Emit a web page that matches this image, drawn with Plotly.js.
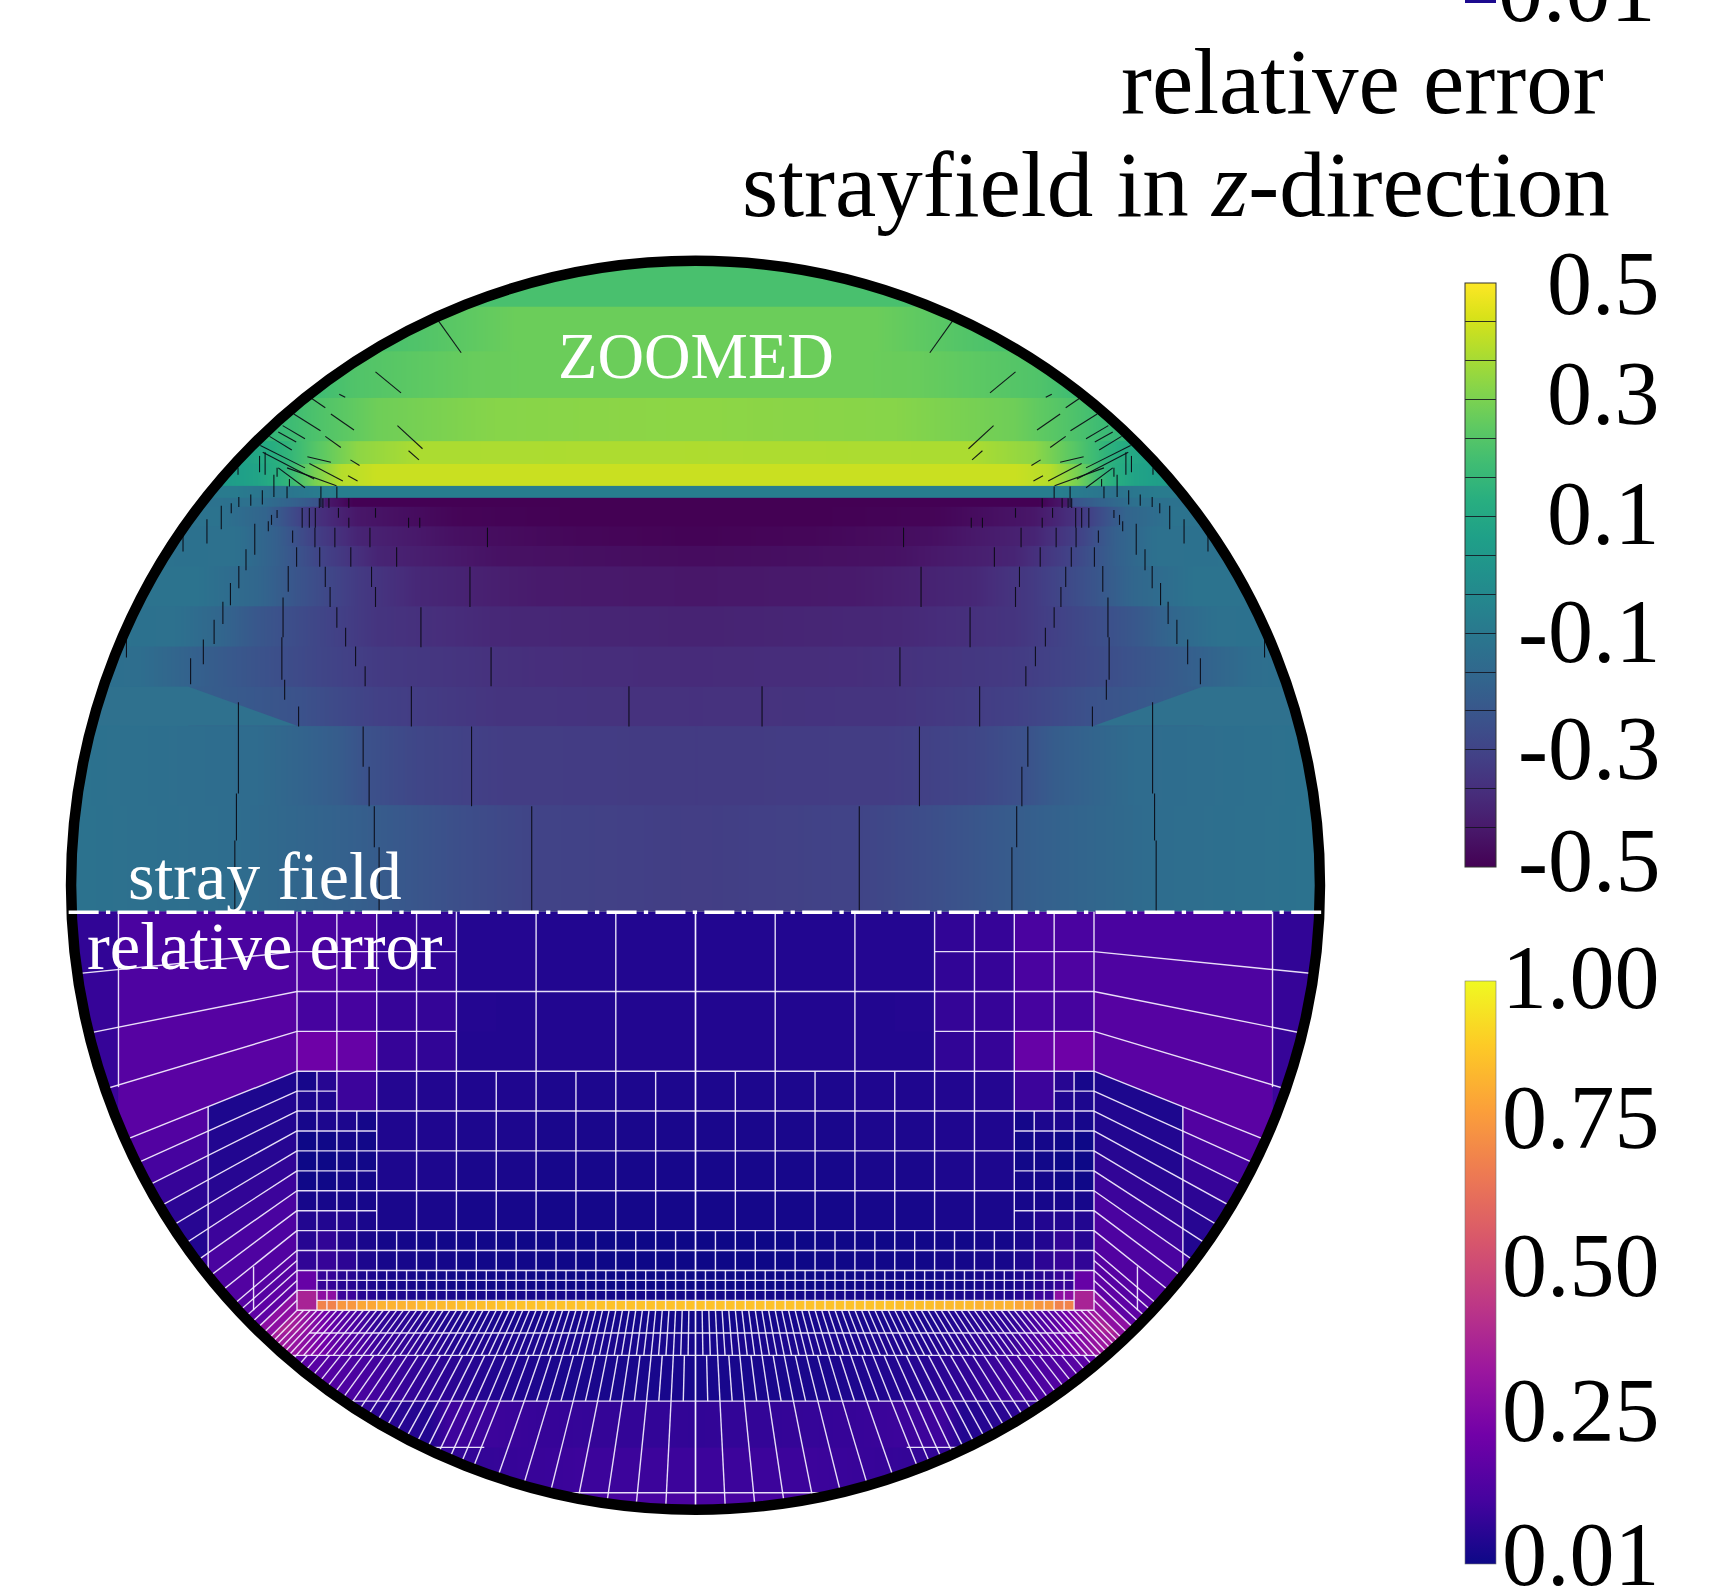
<!DOCTYPE html>
<html><head><meta charset="utf-8">
<script src="https://cdn.plot.ly/plotly-3.0.1.min.js"></script>
<style>html,body{margin:0;padding:0;background:#fff;overflow:hidden}#chart{width:1718px;height:1594px}</style>
</head><body><div id="chart"></div>
<script>
// ---------- page frame ----------
const pageW = 1718, pageH = 1594, pxPerUnit = 39.85, originPxX = 695.5, originPxY = 911.8;
const circleCy = 0.667, circleR = 15.67;

// ---------- upper half: stray field, band by band (distance from axis -> value) ----------
const fieldEdges = [0,2.67,4.67,5.65,6.66,7.67,8.68,9.18,9.67,10.16,10.4,10.7,11.25,11.8,12.9,14.06,15.18,16.7];
const fieldX01 = [0,4,6,8.5,11.5,17];            const fieldZ01 = [-.32,-.30,-.26,-.20,-.145,-.115];
const fieldX02 = [0,5,7,8.3,9,11,17];            const fieldZ02 = [-.33,-.32,-.29,-.25,-.21,-.15,-.115];
const fieldX03 = [0,5,8,9.9,12.7,12.75,17];      const fieldZ03 = [-.36,-.35,-.31,-.25,-.20,-.12,-.115];
const fieldX04 = [0,4,8,9.5,11.5,12.7,14,17];    const fieldZ04 = [-.38,-.37,-.33,-.29,-.23,-.19,-.14,-.115];
const fieldX05 = [0,5,8,9.5,11,12,13,17];        const fieldZ05 = [-.405,-.39,-.35,-.29,-.23,-.17,-.13,-.115];
const fieldX06 = [0,4,7,8.5,10,11,12.5,17];      const fieldZ06 = [-.44,-.43,-.39,-.33,-.24,-.17,-.12,-.115];
const fieldX07 = [0,5,8,9.3,10.5,11.5,17];       const fieldZ07 = [-.47,-.455,-.40,-.31,-.20,-.13,-.115];
const fieldX08 = [0,3,6,8.5,9.5,10.5,11.5,17];   const fieldZ08 = [-.495,-.485,-.46,-.40,-.32,-.20,-.13,-.115];
const fieldX09 = [0,3,6,8.5,9.5,10,10.8,12,17];  const fieldZ09 = [-.5,-.5,-.49,-.44,-.36,-.29,-.18,-.12,-.11];
const fieldX10 = [0,8.6,9.3,9.45,10,11,17];      const fieldZ10 = [-.5,-.5,-.43,-.25,-.2,-.13,-.1];
const fieldX11 = [0,9.1,9.6,10.5,11.5,17];       const fieldZ11 = [-.075,-.075,-.09,-.12,-.09,-.06];
const fieldX12 = [0,8,8.9,9.6,10.3,11,12,17];    const fieldZ12 = [.42,.42,.39,.29,.15,.08,.04,.04];
const fieldX13 = [0,7,8.5,9.5,10.3,11.2,17];     const fieldZ13 = [.38,.375,.33,.24,.15,.08,.06];
const fieldX14 = [0,5,8,9.5,10.5,11.5,17];       const fieldZ14 = [.33,.32,.28,.22,.17,.12,.1];
const fieldX15 = [0,4,5.5,7,8.6,10,17];          const fieldZ15 = [.275,.275,.27,.25,.225,.17,.15];
const fieldX16 = [0,4.5,5.8,7,8,17];             const fieldZ16 = [.275,.275,.25,.225,.21,.2];
const fieldX17 = [0,17];                         const fieldZ17 = [.21,.21];
const fieldXs = [fieldX01,fieldX02,fieldX03,fieldX04,fieldX05,fieldX06,fieldX07,fieldX08,fieldX09,fieldX10,fieldX11,fieldX12,fieldX13,fieldX14,fieldX15,fieldX16,fieldX17];
const fieldZs = [fieldZ01,fieldZ02,fieldZ03,fieldZ04,fieldZ05,fieldZ06,fieldZ07,fieldZ08,fieldZ09,fieldZ10,fieldZ11,fieldZ12,fieldZ13,fieldZ14,fieldZ15,fieldZ16,fieldZ17];
// outer teal wedge under the inner triangular zone
const wedgeX = [10,12.72,17,17], wedgeY = [4.67,5.65,5.65,4.67];

// hairline artefacts in the stray field (left half; mirrored)
const crackX  = [-11.56,-11.52,-11.47,-7.94,-8.06,-8.19,-8.34,-5.62,-4.11,-1.67,-7.13,-9.96,-10.31,-10.38,-10.35,-10.22,-10.01,-10.11,-8.29,-8.53,-8.78,-9.0,-9.17,-9.29,-9.43,-9.55,-9.54,-9.69,-9.87,-5.13,-6.89,-8.03,-8.13,-5.66,-7.5,-8.65,-8.17,-9.05,-5.22,-7.2,-6.92,-8.03,-8.7,-8.96,-8.7,-9.2,-9.35,-9.44,-12.67,-12.35,-12.08,-11.86,-11.67,-11.46,-11.28,-11.06,-10.72,-10.64,-10.5,-14.28,-12.86,-12.26,-11.9,-11.65,-11.46,-11.16,-10.87,-10.58,-10.25,-11.48,-10.8,-10.94,-10.5,-10.19,-9.4,-9.0];
const crackY0 = [0,1.79,2.97,0,1.62,2.65,3.64,2.65,0,4.65,4.65,4.65,5.32,5.82,6.89,8.03,8.66,9.26,5.66,6.16,6.66,7.13,7.65,8.15,8.66,9.15,9.64,9.64,9.64,5.66,6.64,7.65,8.15,7.65,8.66,8.66,9.15,9.15,9.15,9.64,9.64,9.89,9.64,9.89,10.13,10.13,10.13,10.13,5.71,6.21,6.72,7.22,7.69,8.12,8.57,8.96,9.55,9.71,9.88,6.38,9.04,9.24,9.6,10,10.16,10.19,10.22,10.41,10.38,10.97,10.97,11.03,10.92,10.67,10.16,10.38];
const crackY1 = [1.79,2.97,5.26,1.62,2.65,3.64,4.65,4.65,2.65,5.66,5.66,5.15,5.82,6.89,7.89,8.68,9.15,9.57,6.16,6.66,7.13,7.64,8.15,8.66,9.15,9.64,10.13,10.13,10.13,6.64,7.64,8.15,8.66,8.66,9.15,9.15,9.64,9.64,9.64,9.89,9.89,10.13,9.89,10.13,10.38,10.38,10.38,10.38,6.36,6.83,7.33,7.78,8.25,8.68,9.1,9.74,9.8,9.96,10.08,6.91,9.46,9.85,10.19,10.25,10.41,10.47,10.58,10.97,10.67,11.14,11.53,11.44,11.14,10.86,10.67,10.67];
const slashX0 = [-6.46,-8.03,-8.94,-9.63,-9.15,-7.48,-7.2,-10.08,-10.36,-9.29,-9.74,-8.66,-8.72,-10.69,-10.92,-10.86,-10.47,-10.47,-10.25,-9.69];
const slashY0 = [14.84,13.55,12.99,12.88,12.49,12.2,11.57,12.49,12.2,11.93,11.42,11.34,10.94,11.93,11.7,11.53,12.04,11.14,11.14,11.25];
const slashX1 = [-5.88,-7.39,-8.79,-9.29,-8.57,-6.85,-6.94,-9.41,-9.8,-8.9,-9.15,-8.43,-8.48,-10.13,-9.8,-9.57,-10.02,-9.8,-9.01,-8.85];
const slashY1 = [14.03,13.02,12.91,12.65,12.09,11.62,11.34,12.07,11.87,11.65,11.28,11.2,10.81,11.59,11.14,10.86,11.79,10.64,10.69,10.81];

// ---------- lower half: relative error per mesh block (half of the domain; mirrored) ----------
const errColEdges = [0,1,2,3,4,5,6,7,8,8.5,9,9.5,10];
const errRowEdges = [0,-1,-2,-3,-4,-4.5,-5,-5.5,-6,-6.5,-7,-7.5,-8,-8.5,-9,-9.5,-9.75,-10];
const errRow01 = [.05,.05,.05,.05,.055,.055,.08,.09,.13,.13,.13,.13];
const errRow02 = [.05,.05,.05,.05,.055,.055,.08,.09,.13,.13,.14,.14];
const errRow03 = [.05,.05,.05,.05,.05,.055,.085,.09,.12,.12,.12,.12];
const errRow04 = [.05,.05,.05,.05,.05,.05,.08,.09,.2,.2,.22,.22];
const errRow05 = [.04,.04,.04,.04,.045,.045,.05,.055,.1,.1,.06,.03];
const errRow06 = [.04,.04,.04,.04,.045,.045,.05,.055,.1,.1,.045,.04];
const errRow07 = [.035,.035,.035,.035,.04,.04,.045,.045,.025,.04,.04,.03];
const errRow08 = [.035,.035,.035,.035,.04,.04,.045,.045,.02,.025,.015,.012];
const errRow09 = [.03,.03,.03,.03,.035,.035,.04,.04,.02,.02,.005,.005];
const errRow10 = [.03,.03,.03,.03,.035,.035,.04,.04,.025,.025,.015,.015];
const errRow11 = [.025,.025,.025,.025,.03,.03,.035,.035,.03,.03,.03,.03];
const errRow12 = [.025,.025,.025,.025,.03,.03,.035,.035,.035,.05,.05,.05];
const errRow13 = [.012,.012,.012,.015,.015,.02,.02,.025,.035,.05,.08,.06];
const errRow14 = [.012,.012,.012,.015,.02,.02,.025,.03,.04,.07,.09,.08];
const errRow15 = [.012,.012,.012,.012,.015,.015,.02,.03,.04,.06,.09,.2];
const errRow16 = [.025,.025,.025,.03,.03,.03,.035,.04,.06,.1,.3,.38];
const errRow17 = [.87,.87,.87,.87,.87,.86,.85,.83,.8,.76,.7,.38];
const errRows = [errRow01,errRow02,errRow03,errRow04,errRow05,errRow06,errRow07,errRow08,errRow09,errRow10,errRow11,errRow12,errRow13,errRow14,errRow15,errRow16,errRow17];

// bands under the square
const fanEdges = [-10,-10.57,-11.13,-12.28,-13.44,-14.58,-16.7];
const fanX1 = [0,4,6,8,9,10,10.6,17]; const fanZ1 = [.02,.03,.04,.08,.17,.35,.42,.4];
const fanX2 = [0,4,6,8,9,10,11,17];   const fanZ2 = [.03,.04,.05,.1,.18,.32,.4,.4];
const fanX3 = [0,3,5,7,8.5,10,17];    const fanZ3 = [.03,.035,.05,.08,.13,.18,.22];
const fanX4 = [0,2.5,4,5,6.2,6.7,8,9,17]; const fanZ4 = [.08,.085,.09,.1,.105,.05,.07,.1,.12];
const fanX5 = [0,3,4.5,6,8,17];       const fanZ5 = [.1,.1,.09,.08,.09,.09];
const fanX6 = [0,4,8,17];             const fanZ6 = [.13,.12,.11,.11];
const fanXs = [fanX1,fanX2,fanX3,fanX4,fanX5,fanX6];
const fanZs = [fanZ1,fanZ2,fanZ3,fanZ4,fanZ5,fanZ6];

// wedges beside the square: y on the square's side, value inside and outside the outer break line
const sideEdges = [0,-1,-2,-3,-4,-4.5,-5,-5.5,-6,-6.5,-7,-7.5,-8,-8.5,-9,-9.5,-10];
const sideInner = [.13,.14,.16,.17,.04,.05,.05,.06,.08,.1,.13,.14,.15,.16,.18,.3];
const sideOuter = [.08,.09,.09,.1,.15,.12,.09,.07,.06,.05,.1,.1,.12,.14,.16,.32];
const sideBreak = [14.48,14.48,14.48,14.48,12.23,12.23,12.23,12.23,12.23,12.23,12.23,12.23,12.23,12.23,12.23,12.23];

// mesh lines (half; mirrored)
const meshVX   = [10,9,8,7,6,4,2,0,5,3,1,9.5,8.5,11.09,12.23,14.48];
const meshVTop = [0,0,0,0,0,0,0,0,-4,-4,-4,-4,-5,-8.9,-4.9,0];
const meshVBot = [-10,-8,-8,-8,-8,-8,-8,-8,-8,-8,-8,-8,-8,-10,-9,-4.4];
const meshHY   = [-1,-2,-3,-4,-4.5,-5,-5.5,-6,-6.5,-7,-7.5,-8,-8.5,-9,-9.25,-9.5,-9.75,-10,-10.57,-11.13,-12.28,-13.44,-14.58];
const meshHIn  = [6,0,6,0,9,0,8,0,8,0,8,0,0,0,0,0,0,0,0,0,0,5.3,0];
const meshHOut = [10,10,10,10,10,10,10,10,10,10,10,10,10,10,9.5,10,9.5,10,9.7,11,12.5,6.66,3.6];
const sideRayY = [-1,-2,-3,-4,-4.5,-5,-5.5,-6,-6.5,-7,-7.5,-8,-8.5,-8.75,-9,-9.25,-9.5,-9.75];
const halfStep = 0.5, quarterStep = 0.25, fanFineStep = 1/6;

// ---------- colour bars ----------
const plasmaStops = ["#0d0887","#46039f","#7201a8","#9c179e","#bd3786","#d8576b","#ed7953","#fb9f3a","#fdca26","#f0f921"];
const fieldBarLines = [-.5,-.4333,-.3667,-.3,-.2333,-.1667,-.1,-.0333,.0333,.1,.1667,.2333,.3,.3667,.4333,.5];
const fieldTickText = ["0.5","0.3","0.1","-0.1","-0.3","-0.5"];
const fieldTickPx   = [283,394,513,631,748,860];
const errTickText   = ["1.00","0.75","0.50","0.25","0.01"];
const errTickPx     = [977,1117,1265,1410,1554];

// ---------- helpers ----------
const mirrorX = xs => xs.slice().reverse().filter(v => v !== 0).map(v => -v).concat(xs);
const mirrorZ = (xs, zs) => zs.slice().reverse().filter((v, i) => xs[xs.length - 1 - i] !== 0).concat(zs);
const mirrorEdges = xs => xs.slice(1).reverse().map(v => -v).concat(xs);
const mirrorCells = zs => zs.slice().reverse().concat(zs);
const paperX = px => px / pageW, paperY = py => 1 - py / pageH;
const hex = s => [1,3,5].map(i => parseInt(s.slice(i, i + 2), 16));
function plasmaColor(v) {
  const f = Math.min(1, Math.max(0, (v - .01) / .99)) * (plasmaStops.length - 1);
  const i = Math.min(plasmaStops.length - 2, Math.floor(f)), a = hex(plasmaStops[i]), b = hex(plasmaStops[i + 1]);
  return "rgb(" + a.map((c, k) => Math.round(c + (b[k] - c) * (f - i))).join(",") + ")";
}

const traces = [];
const seamOverlap = 0.04;
function band(yLow, yHigh, xs, zs, axis) {
  // two equal rows whose bricks span yLow..yHigh; the library interpolates along x.
  // the next band, drawn later, covers the small overlap so that no seam shows.
  const row = mirrorZ(xs, zs), top = yHigh + seamOverlap, q = (top - yLow) / 4;
  traces.push({type:"heatmap", x:mirrorX(xs), y:[yLow + q, top - q], z:[row,row], zsmooth:"best", coloraxis:axis, hoverinfo:"skip"});
}
fieldZs.forEach((zs, i) => band(fieldEdges[i], fieldEdges[i + 1], fieldXs[i], zs, "coloraxis"));
for (let i = fanZs.length - 1; i >= 0; i--) band(fanEdges[i + 1], fanEdges[i], fanXs[i], fanZs[i], "coloraxis2");
traces.push({type:"heatmap", x:mirrorEdges(errColEdges), y:errRowEdges, z:errRows.map(mirrorCells), coloraxis:"coloraxis2", hoverinfo:"skip"});

[1,-1].forEach(s => traces.push({type:"scatter", mode:"none", x:wedgeX.map(v => s*v), y:wedgeY, fill:"toself", fillcolor:"#2f718e", hoverinfo:"skip", showlegend:false}));

// side wedges
sideInner.forEach((v, i) => {
  const y0 = sideEdges[i], y1 = sideEdges[i + 1], b = sideBreak[i], far = 18;
  [1,-1].forEach(s => {
    const poly = (a, c, col) => traces.push({type:"scatter", mode:"lines", line:{color:col, width:.6}, fill:"toself", fillcolor:col, hoverinfo:"skip", showlegend:false,
      x:[a,c,c,a,a].map(k => s*k), y:[y0*a/10, y0*c/10, y1*c/10, y1*a/10, y0*a/10]});
    poly(10, b, plasmaColor(v));
    poly(b, far, plasmaColor(sideOuter[i]));
  });
});

// mesh wireframe
const wx = [], wy = [];
const seg = (x0, y0, x1, y1) => { [1,-1].forEach(s => { wx.push(s*x0, s*x1, null); wy.push(y0, y1, null); }); };
meshVX.forEach((x, i) => seg(x, meshVTop[i], x, meshVBot[i]));
meshHY.forEach((y, i) => seg(meshHIn[i], y, meshHOut[i], y));
for (let x = 0; x < 10; x += halfStep) seg(x, -8, x, -9);
for (let x = 0; x <= 9.5; x += quarterStep) seg(x, -9, x, -10);
sideRayY.forEach(y => seg(10, y, 18, y * 1.8));
const ray = (t, ya, yb) => seg(t * ya / -10, ya, t * yb / -10, yb);
for (let t = 0; t <= 10.01; t += fanFineStep) ray(t, -10, -11.13);
for (let t = 0; t <= 10.01; t += quarterStep) ray(t, -11.13, -12.28);
for (let t = 4; t <= 10.01; t += quarterStep) ray(t, -12.28, -18);
for (let t = 0; t < 4; t += halfStep) ray(t, -12.28, -18);
traces.push({type:"scatter", mode:"lines", x:wx, y:wy, line:{color:"rgba(245,240,255,0.92)", width:1.4}, hoverinfo:"skip", showlegend:false, connectgaps:false});

// stray-field hairlines
const bx = [], by = [];
crackX.forEach((x, i) => { [1,-1].forEach(s => { bx.push(s*x, s*x, null); by.push(crackY0[i], crackY1[i], null); }); });
slashX0.forEach((x, i) => { [1,-1].forEach(s => { bx.push(s*x, s*slashX1[i], null); by.push(slashY0[i], slashY1[i], null); }); });
traces.push({type:"scatter", mode:"lines", x:bx, y:by, line:{color:"rgba(10,10,20,0.92)", width:1.1}, hoverinfo:"skip", showlegend:false, connectgaps:false});

// ---------- mask, ring, mid line ----------
let maskPath = "M-30,-30 L40,-30 L40,40 L-30,40 Z ";
for (let a = 0; a <= 720; a++) {
  const t = a * Math.PI / 360;
  maskPath += (a ? "L" : "M") + (circleR * Math.cos(t)).toFixed(4) + "," + (circleCy + circleR * Math.sin(t)).toFixed(4) + " ";
}
maskPath += "Z";
const shapes = [
  {type:"path", path:maskPath, xref:"x", yref:"y", fillcolor:"#fff", fillrule:"evenodd", line:{width:0}, layer:"above"},
  {type:"circle", xref:"x", yref:"y", x0:-circleR, x1:circleR, y0:circleCy-circleR, y1:circleCy+circleR, line:{color:"#000", width:10.5}, layer:"above"},
  {type:"line", xref:"x", yref:"y", x0:-15.73, x1:15.78, y0:-.01, y1:-.01, line:{color:"#fff", width:3.5, dash:"30px,7.3px,4.3px,7.3px"}, layer:"above"},
  {type:"rect", xref:"paper", yref:"paper", x0:paperX(1465), x1:paperX(1496), y0:paperY(3), y1:paperY(-3), fillcolor:"#1c0a8f", line:{width:0}, layer:"above"}
];

// ---------- texts ----------
const serif = "Liberation Serif, Times New Roman, serif";
const note = (text, px, py, size, anchor, color) => ({text, xref:"paper", yref:"paper", x:paperX(px), y:paperY(py), xanchor:anchor, yanchor:"middle",
  showarrow:false, font:{family:serif, size, color}, borderpad:0, captureevents:false});
const annotations = [
  note("relative error", 1605, 81, 93, "right", "#000"),
  note("strayfield in <i>z</i>-direction", 1611, 184, 93, "right", "#000"),
  note("ZOOMED", 696, 356, 64.5, "center", "#fff"),
  note("stray field", 265, 876, 68, "center", "#fff"),
  note("relative error", 265, 946, 68.5, "center", "#fff"),
  note("0.01", 1657, -10, 90, "right", "#000")
];
fieldTickText.forEach((t, i) => annotations.push(note(t, 1661, fieldTickPx[i], 90, "right", "#000")));
errTickText.forEach((t, i) => annotations.push(note(t, 1661, errTickPx[i], 90, "right", "#000")));

const layout = {
  width:pageW, height:pageH, paper_bgcolor:"#fff", plot_bgcolor:"#fff", showlegend:false,
  margin:{l:0,r:0,t:0,b:0,pad:0,autoexpand:false},
  xaxis:{range:[-originPxX/pxPerUnit,(pageW-originPxX)/pxPerUnit], visible:false, fixedrange:true},
  yaxis:{range:[(originPxY-pageH)/pxPerUnit,originPxY/pxPerUnit], visible:false, fixedrange:true},
  coloraxis:{colorscale:"Viridis", cmin:-.5, cmax:.5, colorbar:{
    x:paperX(1465), xanchor:"left", xpad:0, y:paperY(282.7), yanchor:"top", ypad:0, lenmode:"pixels", len:584, thicknessmode:"pixels", thickness:31,
    tickmode:"array", tickvals:fieldBarLines, ticks:"inside", ticklen:31, tickwidth:1, tickcolor:"rgba(20,20,30,0.85)", showticklabels:false,
    outlinecolor:"#333", outlinewidth:1, borderwidth:0}},
  coloraxis2:{colorscale:plasmaStops.map((c, i) => [i / (plasmaStops.length - 1), c]), cmin:.01, cmax:1, colorbar:{
    x:paperX(1465), xanchor:"left", xpad:0, y:paperY(980.7), yanchor:"top", ypad:0, lenmode:"pixels", len:583, thicknessmode:"pixels", thickness:31,
    tickmode:"array", tickvals:[], ticks:"", showticklabels:false, outlinecolor:"#777", outlinewidth:.6, borderwidth:0}},
  shapes, annotations
};
Plotly.newPlot("chart", traces, layout, {staticPlot:true, displayModeBar:false});
</script></body></html>
